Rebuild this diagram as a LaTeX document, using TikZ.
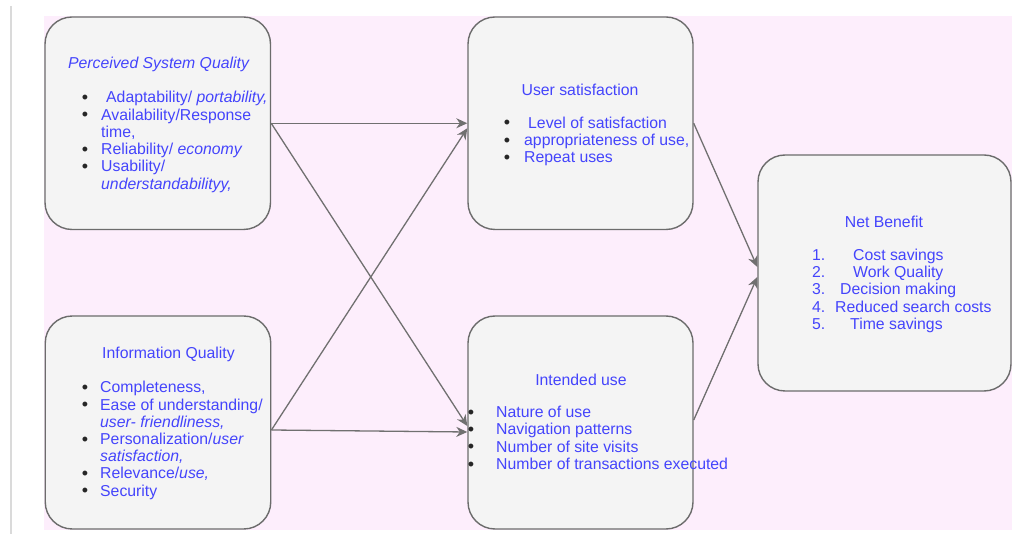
\documentclass[tikz,border=0pt]{standalone}
\usepackage{fontspec}
\setmainfont{Liberation Sans}
\usetikzlibrary{arrows.meta}
\definecolor{bgpink}{RGB}{253,238,252}
\definecolor{boxfill}{RGB}{244,244,244}
\definecolor{boxline}{RGB}{108,108,108}
\definecolor{txtblue}{RGB}{68,68,252}
\definecolor{arrgray}{RGB}{112,112,112}
\definecolor{sideline}{RGB}{218,218,218}
\begin{document}
\begin{tikzpicture}[x=1pt,y=-1pt,
 box/.style={draw=boxline, fill=boxfill, line width=1.4pt, rounded corners=27pt, inner sep=0pt},
 txt/.style={inner sep=0pt, anchor=base west, text=txtblue, font=\fontsize{15.8}{17}\selectfont},
 ttl/.style={inner sep=0pt, anchor=base, text=txtblue, font=\fontsize{15.8}{17}\selectfont},
 bul/.style={inner sep=0pt, anchor=base, text=black!85, font=\fontsize{18}{17}\selectfont},
 conn/.style={draw=arrgray, line width=1.3pt, -{Stealth[length=11pt,width=10pt,inset=3.5pt]}}
]
\useasboundingbox (0,0) rectangle (1021,534);
\fill[white] (0,0) rectangle (1021,534);
\fill[bgpink] (44,16) rectangle (1012,530);
\draw[sideline, line width=2pt] (11,6) -- (11,534);

% boxes
\node[box, minimum width=225.5pt, minimum height=212.5pt] (psq) at (157.75,123.25) {};
\node[box, minimum width=225.5pt, minimum height=213pt] (iq) at (158,422.5) {};
\node[box, minimum width=225pt, minimum height=212.5pt] (us) at (580.5,123.25) {};
\node[box, minimum width=225pt, minimum height=213pt] (iu) at (580.5,422.5) {};
\node[box, minimum width=253pt, minimum height=236pt] (nb) at (884.5,273) {};

% Perceived System Quality
\node[ttl] (psqT) at (158.5,68.5) {\itshape Perceived System Quality};
\node[bul] (psqB1) at (85,103.3) {•};
\node[bul] (psqB2) at (85,120.6) {•};
\node[bul] (psqB4) at (85,155.2) {•};
\node[bul] (psqB5) at (85,172.5) {•};
\node[txt] (psq1) at (106,102.8) {Adaptability/ \textit{portability,}};
\node[txt] (psq2) at (101,120.1) {Availability/Response};
\node[txt] (psq3) at (101,137.4) {time,};
\node[txt] (psq4) at (101,154.7) {Reliability/ \textit{economy}};
\node[txt] (psq5) at (101,172.0) {Usability/};
\node[txt] (psq6) at (101,189.3) {\textit{understandabilityy,}};

% Information Quality
\node[ttl] (iqT) at (168.5,358.5) {Information Quality};
\node[bul] (iqB1) at (85,393.5) {•};
\node[bul] (iqB2) at (85,410.7) {•};
\node[bul] (iqB4) at (85,445.1) {•};
\node[bul] (iqB6) at (85,479.5) {•};
\node[bul] (iqB7) at (85,496.7) {•};
\node[txt] (iq1) at (100,393.0) {Completeness,};
\node[txt] (iq2) at (100,410.2) {Ease of understanding/};
\node[txt] (iq3) at (100,427.4) {\textit{user- friendliness,}};
\node[txt] (iq4) at (100,444.6) {Personalization/\textit{user}};
\node[txt] (iq5) at (100,461.8) {\textit{satisfaction,}};
\node[txt] (iq6) at (100,479.0) {Relevance/\textit{use,}};
\node[txt] (iq7) at (100,496.2) {Security};

% User satisfaction
\node[ttl] (usT) at (580,95.5) {User satisfaction};
\node[bul] (usB1) at (507,129.0) {•};
\node[bul] (usB2) at (507,146.2) {•};
\node[bul] (usB3) at (507,163.4) {•};
\node[txt] (us1) at (528,128.5) {Level of satisfaction};
\node[txt] (us2) at (524,145.7) {appropriateness of use,};
\node[txt] (us3) at (524,162.9) {Repeat uses};

% Intended use
\node[ttl] (iuT) at (581,385.5) {Intended use};
\node[bul] (iuB1) at (471,418.1) {•};
\node[bul] (iuB2) at (471,435.5) {•};
\node[bul] (iuB3) at (471,452.9) {•};
\node[bul] (iuB4) at (471,470.3) {•};
\node[txt] (iu1) at (496,417.6) {Nature of use};
\node[txt] (iu2) at (496,435.0) {Navigation patterns};
\node[txt] (iu3) at (496,452.4) {Number of site visits};
\node[txt] (iu4) at (496,469.8) {Number of transactions executed};

% Net Benefit
\node[ttl] (nbT) at (884,227.5) {Net Benefit};
\node[txt] (nbN1) at (812,260.5) {1.};
\node[txt] (nbN2) at (812,277.7) {2.};
\node[txt] (nbN3) at (812,294.9) {3.};
\node[txt] (nbN4) at (812,312.1) {4.};
\node[txt] (nbN5) at (812,329.3) {5.};
\node[txt] (nb1) at (853,260.5) {Cost savings};
\node[txt] (nb2) at (853,277.7) {Work Quality};
\node[txt] (nb3) at (840,294.9) {Decision making};
\node[txt] (nb4) at (835,312.1) {Reduced search costs};
\node[txt] (nb5) at (850,329.3) {Time savings};

% connectors
\draw[conn] (psq.east) -- (us.west);
\draw[conn] (psq.east) -- ([yshift=-3.5pt]iu.west);
\draw[conn] ([yshift=-7.5pt]iq.east) -- ([yshift=-5pt]us.west);
\draw[conn] ([yshift=-7.5pt]iq.east) -- ([yshift=-9.5pt]iu.west);
\draw[conn] (us.east) -- ([yshift=6pt]nb.west);
\draw[conn] ([yshift=2.5pt]iu.east) -- ([yshift=-4pt]nb.west);
\end{tikzpicture}
\end{document}
